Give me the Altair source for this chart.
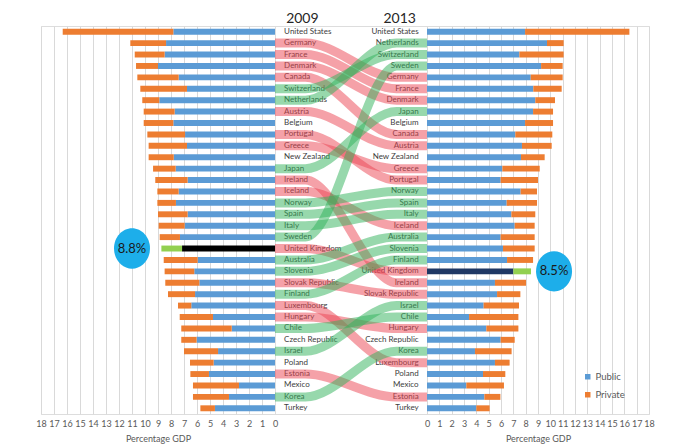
import altair as alt
import pandas as pd

# ---------------- data ----------------
countries_2009 = ["United States", "Germany", "France", "Denmark", "Canada", "Switzerland",
                  "Netherlands", "Austria", "Belgium", "Portugal", "Greece", "New Zealand",
                  "Japan", "Ireland", "Iceland", "Norway", "Spain", "Italy", "Sweden",
                  "United Kingdom", "Australia", "Slovenia", "Slovak Republic", "Finland",
                  "Luxembourg", "Hungary", "Chile", "Czech Republic", "Israel", "Poland",
                  "Estonia", "Mexico", "Korea", "Turkey"]
public_2009 = [7.82, 8.38, 8.49, 9.00, 7.41, 6.77, 8.90, 7.72, 7.82, 6.92, 6.77, 7.79,
               7.64, 6.72, 7.41, 7.62, 6.72, 6.95, 7.31, 7.15, 5.95, 6.21, 5.82, 6.15,
               6.44, 4.77, 3.33, 6.03, 4.38, 4.72, 5.08, 2.77, 3.54, 4.62]
total_2009 = [16.33, 11.13, 10.79, 10.69, 10.59, 10.36, 10.21, 10.10, 10.10, 9.82, 9.72, 9.72,
              9.38, 9.21, 9.05, 9.05, 9.00, 8.95, 8.87, 8.74, 8.56, 8.49, 8.44, 8.23,
              7.46, 7.33, 7.21, 7.21, 7.00, 6.54, 6.51, 6.31, 6.31, 5.74]

countries_2013 = ["United States", "Netherlands", "Switzerland", "Sweden", "Germany", "France",
                  "Denmark", "Japan", "Belgium", "Canada", "Austria", "New Zealand", "Greece",
                  "Portugal", "Norway", "Spain", "Italy", "Iceland", "Australia", "Slovenia",
                  "Finland", "United Kingdom", "Ireland", "Slovak Republic", "Israel", "Chile",
                  "Hungary", "Czech Republic", "Korea", "Luxembourg", "Poland", "Mexico",
                  "Estonia", "Turkey"]
public_2013 = [7.95, 9.73, 7.49, 9.25, 8.41, 8.62, 8.78, 8.60, 7.95, 7.16, 7.70, 7.62, 6.11,
               5.97, 7.59, 6.46, 6.84, 7.11, 5.97, 6.16, 6.49, 7.00, 5.51, 5.68, 4.59, 3.41,
               4.81, 5.97, 3.89, 5.51, 4.54, 3.19, 4.65, 4.00]
total_2013 = [16.41, 11.08, 11.08, 11.00, 11.00, 10.92, 10.38, 10.22, 10.22, 10.16, 10.11, 9.54,
              9.14, 9.00, 8.92, 8.92, 8.78, 8.73, 8.73, 8.73, 8.60, 8.43, 8.03, 7.57, 7.46,
              7.41, 7.41, 7.11, 6.86, 6.70, 6.35, 6.24, 5.95, 5.08]

no_ribbon = ["United States", "Belgium", "New Zealand", "Czech Republic", "Poland",
             "Mexico", "Turkey"]
highlight_country = "United Kingdom"
highlight_text = ["8.8%", "8.5%"]
highlight_x = [11.0, 10.3]
year_titles = ["2009", "2013"]
gdp_ticks = list(range(0, 19))
parts = ["Public", "Private", "UK 2009 public", "UK 2009 private", "UK 2013 public", "UK 2013 private"]
part_colors = ["#5B9BD5", "#ED7D31", "#000000", "#92D050", "#1F3864", "#92D050"]

FONT = "Lato"
GREY = "#595959"
N = len(countries_2009)


def bar_frame(countries, public, total, year):
    rows = []
    for i, (c, p, t) in enumerate(zip(countries, public, total)):
        uk = c == highlight_country
        rows.append(dict(country=c, rank=i + 1, ord=0, value=p,
                         part=f"UK {year} public" if uk else "Public"))
        rows.append(dict(country=c, rank=i + 1, ord=1, value=round(t - p, 2),
                         part=f"UK {year} private" if uk else "Private"))
    return pd.DataFrame(rows)


df09 = bar_frame(countries_2009, public_2009, total_2009, 2009)
df13 = bar_frame(countries_2013, public_2013, total_2013, 2013)

rank_domain = list(range(1, N + 1))
color_scale = alt.Scale(domain=parts, range=part_colors)


def y_band():
    return alt.Y("rank:O", scale=alt.Scale(domain=rank_domain, paddingInner=0.48,
                                           paddingOuter=0.24), axis=None)


def x_axis():
    return alt.Axis(values=gdp_ticks, ticks=False, domain=False, grid=True,
                    gridColor="#D9D9D9", gridWidth=1, labelColor=GREY, labelFontSize=9,
                    labelFont=FONT, labelPadding=5, labelOverlap=False, labelFlush=False,
                    title="Percentage GDP", titleColor=GREY,
                    titleFontSize=9, titleFont=FONT, titleFontWeight="normal", titlePadding=6)


ellipse = "M0,-1.12 A1,1.12 0 1,1 0,1.12 A1,1.12 0 1,1 0,-1.12 Z"

# ---------------- left panel (2009) ----------------
left_x_scale = alt.Scale(domain=[0, 18], reverse=True, nice=False)
left_bars = alt.Chart(df09).mark_bar().encode(
    x=alt.X("value:Q", stack="zero", scale=left_x_scale, axis=x_axis()),
    y=y_band(),
    color=alt.Color("part:N", scale=color_scale, legend=None),
    order=alt.Order("ord:Q"),
)
hl09 = pd.DataFrame({"x": [highlight_x[0]], "rank": [countries_2009.index(highlight_country) + 1],
                     "label": [highlight_text[0]]})
left_circle = alt.Chart(hl09).mark_point(shape=ellipse, filled=True, size=1296,
                                         color="#1DAEEA", opacity=1).encode(
    x=alt.X("x:Q", scale=left_x_scale, axis=x_axis()), y=y_band())
left_circle_text = alt.Chart(hl09).mark_text(fontSize=13, font=FONT, color="#1a1a1a").encode(
    x=alt.X("x:Q", scale=left_x_scale, axis=x_axis()), y=y_band(), text="label:N")
left = alt.layer(left_bars, left_circle, left_circle_text).properties(width=234, height=388)

# ---------------- middle panel (ranks + ribbons) ----------------
ymid = alt.Scale(domain=[0.5, N + 0.5], reverse=True, nice=False, zero=False)
xmid = alt.Scale(domain=[0, 1], nice=False)
lab09 = pd.DataFrame({"country": countries_2009, "rank": rank_domain})
lab13 = pd.DataFrame({"country": countries_2013, "rank": rank_domain})

rib_rows = []
for c in countries_2009:
    if c in no_ribbon:
        continue
    r0 = countries_2009.index(c) + 1
    r1 = countries_2013.index(c) + 1
    move = "up" if r1 < r0 else "down"
    for px, r in [(0.0, r0), (0.2, r0), (0.8, r1), (1.0, r1)]:
        rib_rows.append(dict(country=c, px=px, rank=r, move=move))
rib = pd.DataFrame(rib_rows)

text09 = alt.Chart(lab09).mark_text(align="left", baseline="middle", fontSize=8, font=FONT,
                                    color="#404040").encode(
    x=alt.datum(0.06, scale=xmid, axis=None),
    y=alt.Y("rank:Q", scale=ymid, axis=None), text="country:N")
text13 = alt.Chart(lab13).mark_text(align="right", baseline="middle", fontSize=8, font=FONT,
                                    color="#404040").encode(
    x=alt.datum(0.945, scale=xmid, axis=None),
    y=alt.Y("rank:Q", scale=ymid, axis=None), text="country:N")
ribbons = alt.Chart(rib).mark_line(interpolate="monotone", strokeWidth=9, strokeCap="butt",
                                   strokeOpacity=0.5).encode(
    x=alt.X("px:Q", scale=xmid, axis=None),
    y=alt.Y("rank:Q", scale=ymid, axis=None),
    detail="country:N",
    order="px:Q",
    color=alt.Color("move:N", scale=alt.Scale(domain=["up", "down"],
                                              range=["#30B25A", "#EB4452"]), legend=None),
)
years = pd.DataFrame({"year": year_titles, "pos": [0.18, 0.82]})
year_text = alt.Chart(years).mark_text(fontSize=14, font=FONT, color="#262626",
                                       baseline="alphabetic").encode(
    x=alt.X("pos:Q", scale=xmid, axis=None), y=alt.value(-3), text="year:N")
middle = alt.layer(text09, text13, ribbons, year_text).properties(width=152, height=388)

# ---------------- right panel (2013) ----------------
right_x_scale = alt.Scale(domain=[0, 18], nice=False)
right_bars = alt.Chart(df13).mark_bar().encode(
    x=alt.X("value:Q", stack="zero", scale=right_x_scale, axis=x_axis()),
    y=y_band(),
    color=alt.Color("part:N", scale=color_scale,
                    legend=alt.Legend(values=["Public", "Private"], orient="none", legendX=156,
                                      legendY=346, title=None, symbolType="square",
                                      symbolSize=30, symbolStrokeWidth=0, labelFontSize=9.5,
                                      labelFont=FONT, labelColor=GREY, rowPadding=7,
                                      padding=0, labelOffset=3)),
    order=alt.Order("ord:Q"),
)
hl13 = pd.DataFrame({"x": [highlight_x[1]], "rank": [countries_2013.index(highlight_country) + 1],
                     "label": [highlight_text[1]]})
right_circle = alt.Chart(hl13).mark_point(shape=ellipse, filled=True, size=1296,
                                          color="#1DAEEA", opacity=1).encode(
    x=alt.X("x:Q", scale=right_x_scale, axis=x_axis()), y=y_band())
right_circle_text = alt.Chart(hl13).mark_text(fontSize=13, font=FONT, color="#1a1a1a").encode(
    x=alt.X("x:Q", scale=right_x_scale, axis=x_axis()), y=y_band(), text="label:N")
right = alt.layer(right_bars, right_circle, right_circle_text).properties(width=222, height=388)

chart = alt.hconcat(left, middle, right, spacing=0, bounds="flush").resolve_scale(
    color="independent").properties(
    padding={"left": 27, "top": 3, "right": 5, "bottom": 5}
).configure_view(stroke="transparent").configure(font=FONT)

chart.save("out.html", embed_options={"renderer": "svg", "actions": False})
